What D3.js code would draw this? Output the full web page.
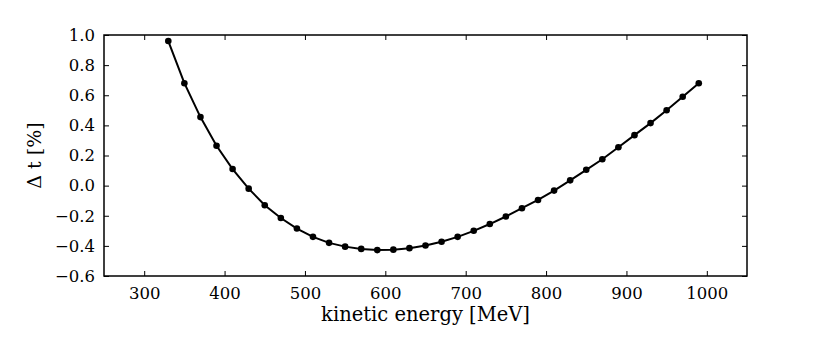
<!DOCTYPE html>
<html>
<head>
<meta charset="utf-8">
<script src="https://cdn.jsdelivr.net/npm/d3@7"></script>
<style>
  body { margin: 0; background: #fff; }
</style>
</head>
<body>
<div id="chart"></div>
<script>
// data
var energy = [330, 350, 370, 390, 410, 430, 450, 470, 490, 510, 530, 550, 570, 590, 610, 630, 650,
              670, 690, 710, 730, 750, 770, 790, 810, 830, 850, 870, 890, 910, 930, 950, 970, 990];
var deltaT = [0.96, 0.68, 0.455, 0.265, 0.11, -0.02, -0.13, -0.215, -0.285, -0.34, -0.38, -0.405, -0.42, -0.428, -0.425, -0.415, -0.398,
              -0.373, -0.34, -0.30, -0.255, -0.205, -0.15, -0.095, -0.033, 0.035, 0.105, 0.175, 0.255, 0.335, 0.415, 0.50, 0.59, 0.68];
var xTicks = [300, 400, 500, 600, 700, 800, 900, 1000];
var yTicks = [-0.6, -0.4, -0.2, 0.0, 0.2, 0.4, 0.6, 0.8, 1.0];

var FONT = "'DejaVu Serif', serif";
var width = 830, height = 346;
var margin = {left: 104, right: 83, top: 35, bottom: 70};
var plotW = width - margin.left - margin.right;
var plotH = height - margin.top - margin.bottom;

var svg = d3.select("#chart").append("svg")
    .attr("width", width)
    .attr("height", height);

var g = svg.append("g")
    .attr("transform", "translate(" + margin.left + "," + margin.top + ")");

var x = d3.scaleLinear().domain([250, 1050]).range([0, plotW]);
var y = d3.scaleLinear().domain([-0.6, 1.0]).range([plotH, 0]);

//Axes with inward ticks
function styleAxis(sel) {
    sel.attr("font-family", null).attr("font-size", null);
    sel.select(".domain").remove();
    sel.selectAll(".tick line").attr("stroke", "#000").attr("stroke-width", 1);
    sel.selectAll(".tick text")
        .attr("font-family", FONT)
        .attr("font-size", 16.5)
        .attr("fill", "#000");
}

g.append("g")
    .attr("transform", "translate(0," + plotH + ")")
    .call(d3.axisBottom(x).tickValues(xTicks).tickSizeInner(-5).tickPadding(11).tickFormat(d3.format("d")))
    .call(styleAxis);

g.append("g")
    .call(d3.axisTop(x).tickValues(xTicks).tickSizeInner(-5).tickFormat(""))
    .call(styleAxis);

g.append("g")
    .call(d3.axisLeft(y).tickValues(yTicks).tickSizeInner(-5).tickPadding(9)
        .tickFormat(d => d3.format(".1f")(d).replace("-", "\u2212")))
    .call(styleAxis);

g.append("g")
    .attr("transform", "translate(" + plotW + ",0)")
    .call(d3.axisRight(y).tickValues(yTicks).tickSizeInner(-5).tickFormat(""))
    .call(styleAxis);

//Frame
g.append("rect")
    .attr("width", plotW)
    .attr("height", plotH)
    .attr("fill", "none")
    .attr("stroke", "#000")
    .attr("stroke-width", 1.5);

//Curve
var points = energy.map((e, i) => [e, deltaT[i]]);

g.append("path")
    .datum(points)
    .attr("fill", "none")
    .attr("stroke", "#000")
    .attr("stroke-width", 2)
    .attr("d", d3.line().x(d => x(d[0])).y(d => y(d[1])));

g.selectAll("circle")
    .data(points)
    .enter().append("circle")
    .attr("cx", d => x(d[0]))
    .attr("cy", d => y(d[1]))
    .attr("r", 3.3)
    .attr("fill", "#000");

//Labels
svg.append("text")
    .attr("x", margin.left + plotW / 2)
    .attr("y", 321)
    .attr("text-anchor", "middle")
    .attr("font-family", FONT)
    .attr("font-size", 19.5)
    .text("kinetic energy [MeV]");

svg.append("text")
    .attr("transform", "translate(41," + (margin.top + plotH / 2) + ") rotate(-90)")
    .attr("text-anchor", "middle")
    .attr("font-family", FONT)
    .attr("font-size", 19)
    .text("\u0394 t [%]");
</script>
</body>
</html>
